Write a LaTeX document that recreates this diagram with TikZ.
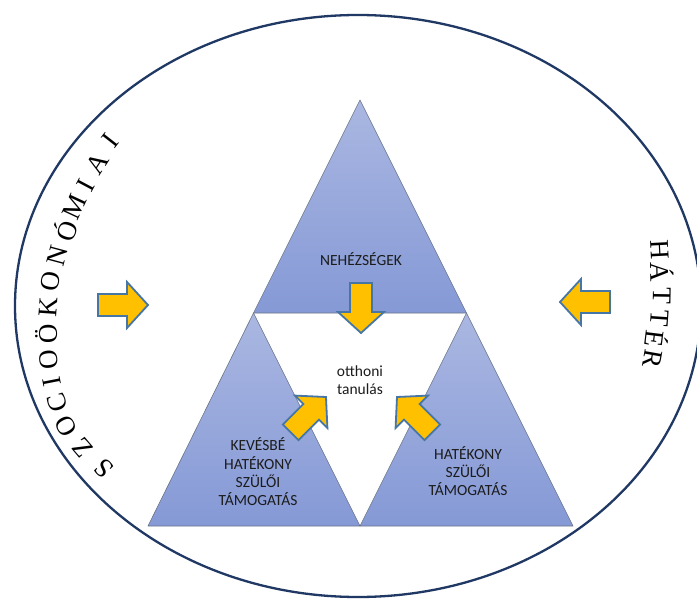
\documentclass[tikz,border=0pt]{standalone}
\usepackage{fontspec}
\setmainfont{Liberation Serif}
\newfontfamily\carlito{Carlito}
\definecolor{triTop}{RGB}{170,183,225}
\definecolor{triBot}{RGB}{133,153,214}
\definecolor{triEdge}{RGB}{105,115,135}
\definecolor{arrowFill}{RGB}{255,192,0}
\definecolor{arrowEdge}{RGB}{70,118,165}
\definecolor{ringCol}{RGB}{31,56,100}
\definecolor{textDark}{RGB}{28,28,28}
\tikzset{
  tri/.style={draw=triEdge, line width=0.6pt, top color=triTop, bottom color=triBot, line join=round},
  barrow/.style={draw=arrowEdge, line width=1.8pt, fill=arrowFill, line join=miter},
  lbl/.style={font=\carlito\fontsize{15.5}{18.3}\selectfont, text=textDark, align=center, inner sep=0pt},
  sidelet/.style={font=\fontsize{27}{27}\selectfont, text=black, inner sep=0pt},
  ring/.style={draw=ringCol, line width=2.3pt},
  blockarrow/.pic={\path[barrow] (0,0) -- (-21,-23) -- (-21,-11) -- (-50,-11) -- (-50,11) -- (-21,11) -- (-21,23) -- cycle;}
}
\begin{document}
\begin{tikzpicture}[x=1pt,y=-1pt]
\useasboundingbox (0,0) rectangle (697,599);
\fill[white] (0,0) rectangle (697,599);
% outer ellipse
\draw[ring] (358,306) ellipse [x radius=343, y radius=291];
% triangles
\path[tri] (360,100) -- (466.5,313) -- (253.5,313) -- cycle;
\path[tri] (253.5,313) -- (360,526) -- (148,526) -- cycle;
\path[tri] (466.5,313) -- (573,526) -- (360,526) -- cycle;
% labels
\node[lbl] (neh) at (361,259) {NEHÉZSÉGEK};
\node[lbl] (ott) at (360,380) {otthoni\\tanulás};
\node[lbl] (kev) at (258,472) {KEVÉSBÉ\\HATÉKONY\\SZÜLŐI\\TÁMOGATÁS};
\node[lbl] (hat) at (468,471) {HATÉKONY\\SZÜLŐI\\TÁMOGATÁS};
% block arrows
\pic at (148,305) {blockarrow};
\pic[rotate=180] at (560,302) {blockarrow};
\pic[rotate=-90] at (361,333) {blockarrow};
\pic[rotate=45] at (326,397) {blockarrow};
\pic[rotate=135] at (397,397) {blockarrow};
% left arched text
\foreach \ch/\px/\py/\ang in {S/104/468/135, Z/82/448/130, O/66/426/119, C/57/403/108, I/52/382/101, O/49/360/96, Ö/47/334/91, K/48/307/86, O/51/281/80, N/57/256/75, Ó/65/230/70, M/75/207/65, I/86/185/62, A/97/163/57, I/110/141/52}
  \node[sidelet, rotate=\ang] at (\px,\py) {\ch};
% right arched text
\foreach \ch/\px/\py/\ang in {H/660/250/-87, Á/662/272/-89, T/662/296/-91, T/660/318/-94, É/657/339/-97, R/653/359/-100}
  \node[sidelet, rotate=\ang] at (\px,\py) {\ch};
\end{tikzpicture}
\end{document}
